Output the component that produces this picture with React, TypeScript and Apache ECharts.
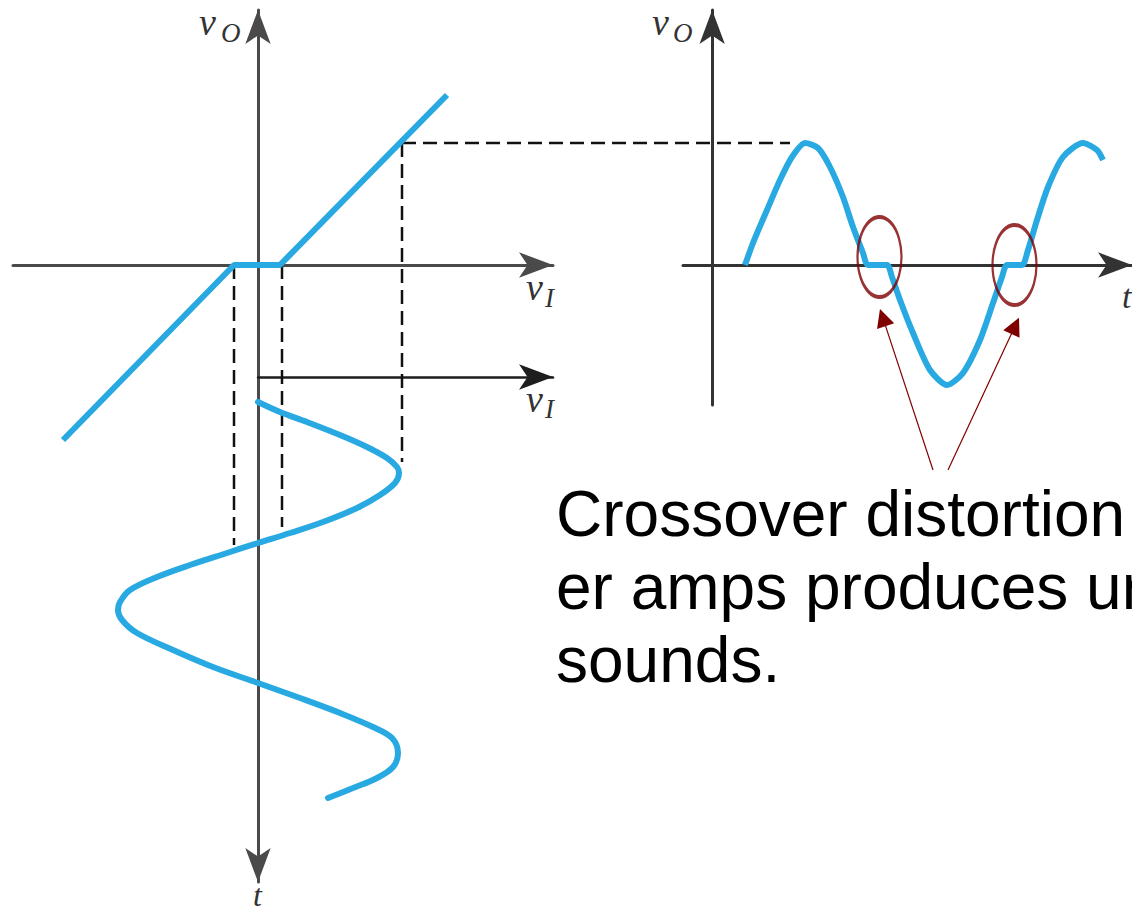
import React, { useEffect, useRef } from "react";
import * as echarts from "echarts";

// Transfer characteristic of a class-B stage (v_I -> v_O) with dead zone
const TRANSFER_VI = [-19.5, -2.4, 2.2, 18.9];
const TRANSFER_VO = [-17.5, 0, 0, 17.0];

// Input sine, time running downward (v_I, t)
const INPUT_VI = [0.0, 2.2, 4.9, 8.2, 10.9, 12.9, 13.9, 14.1, 13.7, 12.2, 9.9, 6.5, 3.2, 0.0, -3.1, -6.8, -10.1, -12.8, -13.8, -14.0, -13.6, -12.1, -8.5, -4.5, 0.0, 4.2, 8.2, 11.5, 13.4, 14.0, 13.5, 11.9, 9.5, 7.0];
const INPUT_T = [2.5, 3.5, 4.5, 5.8, 7.0, 8.1, 9.0, 9.6, 10.6, 11.8, 13.1, 14.5, 15.6, 16.6, 17.6, 18.8, 20.0, 21.3, 22.5, 23.3, 24.3, 25.6, 27.3, 29.0, 30.6, 32.1, 33.6, 35.0, 36.1, 37.6, 39.0, 40.1, 41.1, 42.1];

// Output with crossover distortion (t, v_O)
const OUTPUT_T = [3.2, 4.0, 5.4, 6.7, 7.9, 9.2, 10.5, 11.7, 13.0, 14.0, 15.0, 15.5, 17.4, 17.9, 18.7, 20.0, 21.7, 23.4, 25.0, 26.7, 28.0, 28.9, 29.4, 30.9, 31.5, 32.4, 33.5, 35.0, 37.0, 38.4, 39.0];
const OUTPUT_VO = [0.0, 2.2, 5.5, 8.5, 10.8, 12.2, 11.7, 9.8, 6.8, 3.8, 1.2, 0.0, 0.0, -1.2, -3.5, -6.8, -10.5, -12.0, -10.8, -7.5, -3.8, -1.2, 0.0, 0.0, 1.5, 4.5, 7.8, 10.8, 12.2, 11.5, 10.5];

// Dashed projection lines (transfer plane)
const PROJECTION_VI = [-2.4, 2.4, 14.4];
const PROJECTION_TOP_VO = [0, 0, 12.2];
const PROJECTION_BOTTOM_VO = [-28.0, -26.2, -19.7];
const PEAK_LINE_VI = [14.4, 53.2];
const PEAK_LINE_VO = [12.2, 12.2];

// Crossover regions marked on the output (t, v_O)
const CROSSOVER_T = [16.65, 30.15];
const CROSSOVER_VO = [0.8, 0.0];

// Annotation arrows from the caption to the crossover regions
const ARROW_FROM_T = [22.0, 23.5];
const ARROW_FROM_VO = [-20.5, -20.5];
const ARROW_TO_T = [16.98, 30.22];
const ARROW_TO_VO = [-5.26, -6.08];

const CAPTION_LINES = ["Crossover distortion", "er amps produces un", "sounds."];

const BLUE = "#29a9e1";
const DARK_RED = "#800000";

const zip = (a: number[], b: number[]) => a.map((v, i) => [v, b[i]]);

const hiddenBits = {
  axisTick: { show: false },
  axisLabel: { show: false },
  splitLine: { show: false },
};

const arrowLine = (color: string, width: number, symbol: string[]) => ({
  show: true,
  onZero: true,
  symbol,
  symbolSize: [19, 34],
  symbolOffset: [0, 0],
  lineStyle: { color, width },
});

export default function App() {
  const ref = useRef<HTMLDivElement>(null);

  useEffect(() => {
    if (!ref.current) return;
    const chart = echarts.init(ref.current, undefined, { renderer: "svg" });

    const dashStyle = { color: "#111", width: 2.5, type: [14, 7] };

    const projectionSeries = PROJECTION_VI.map((vi, i) => ({
      type: "line",
      xAxisIndex: 0,
      yAxisIndex: 0,
      data: [
        [vi, PROJECTION_TOP_VO[i]],
        [vi, PROJECTION_BOTTOM_VO[i]],
      ],
      showSymbol: false,
      symbol: "none",
      silent: true,
      z: 2,
      lineStyle: dashStyle,
    }));

    const labelStyle = (size: number) => ({
      fontFamily: "Liberation Serif",
      fontStyle: "italic",
      fontSize: size,
      fill: "#333",
      verticalAlign: "middle",
      align: "left",
    });

    const full = { left: 0, top: 0, width: 1132, height: 912 };

    const option: any = {
      animation: false,
      backgroundColor: "#ffffff",
      grid: [
        { ...full }, // 0: transfer plane (v_I, v_O)
        { ...full }, // 1: input time plane (v_I, t)
        { ...full }, // 2: output plane (t, v_O)
        { left: 13, top: 10, width: 540, height: 872 }, // 3: transfer axes
        { left: 258, top: 377, width: 295, height: 100 }, // 4: input v_I axis
        { left: 683, top: 10, width: 462, height: 395 }, // 5: output axes
      ],
      xAxis: [
        { gridIndex: 0, type: "value", min: -25.8, max: 87.4, show: false },
        { gridIndex: 1, type: "value", min: -25.8, max: 87.4, show: false },
        { gridIndex: 2, type: "value", min: -71.3, max: 41.9, show: false },
        {
          gridIndex: 3,
          type: "value",
          min: -24.5,
          max: 29.5,
          axisLine: arrowLine("#4a4a4a", 3, ["none", "arrow"]),
          ...hiddenBits,
        },
        {
          gridIndex: 4,
          type: "value",
          min: 0,
          max: 29.5,
          position: "top",
          axisLine: { ...arrowLine("#1e1e1e", 2.5, ["none", "arrow"]), onZero: false },
          ...hiddenBits,
        },
        {
          gridIndex: 5,
          type: "value",
          min: -3.0,
          max: 43.2,
          axisLine: arrowLine("#333", 3, ["none", "arrow"]),
          ...hiddenBits,
        },
      ],
      yAxis: [
        { gridIndex: 0, type: "value", min: -64.7, max: 26.5, show: false },
        { gridIndex: 1, type: "value", inverse: true, min: -37.7, max: 53.5, show: false },
        { gridIndex: 2, type: "value", min: -64.7, max: 26.5, show: false },
        {
          gridIndex: 3,
          type: "value",
          min: -61.7,
          max: 25.5,
          axisLine: arrowLine("#4a4a4a", 3, ["arrow", "arrow"]),
          ...hiddenBits,
        },
        { gridIndex: 4, type: "value", min: 0, max: 1, show: false },
        {
          gridIndex: 5,
          type: "value",
          min: -14.0,
          max: 25.5,
          axisLine: arrowLine("#333", 3, ["none", "arrow"]),
          ...hiddenBits,
        },
      ],
      series: [
        ...projectionSeries,
        {
          type: "line",
          xAxisIndex: 0,
          yAxisIndex: 0,
          data: zip(PEAK_LINE_VI, PEAK_LINE_VO),
          showSymbol: false,
          symbol: "none",
          silent: true,
          z: 2,
          lineStyle: dashStyle,
        },
        {
          type: "line",
          xAxisIndex: 0,
          yAxisIndex: 0,
          data: zip(TRANSFER_VI, TRANSFER_VO),
          showSymbol: false,
          symbol: "none",
          silent: true,
          z: 4,
          lineStyle: { color: BLUE, width: 6 },
        },
        {
          type: "line",
          xAxisIndex: 1,
          yAxisIndex: 1,
          data: zip(INPUT_VI, INPUT_T),
          showSymbol: false,
          symbol: "none",
          smooth: 0.35,
          silent: true,
          z: 4,
          lineStyle: { color: BLUE, width: 6, cap: "round" },
        },
        {
          type: "line",
          xAxisIndex: 2,
          yAxisIndex: 2,
          data: zip(OUTPUT_T, OUTPUT_VO),
          showSymbol: false,
          symbol: "none",
          smooth: 0.25,
          silent: true,
          z: 4,
          lineStyle: { color: BLUE, width: 6 },
        },
        {
          type: "scatter",
          xAxisIndex: 2,
          yAxisIndex: 2,
          data: zip(CROSSOVER_T, CROSSOVER_VO),
          symbol: "circle",
          symbolSize: [44, 80],
          silent: true,
          z: 6,
          itemStyle: { color: "rgba(0,0,0,0)", borderColor: DARK_RED, borderWidth: 3 },
          markLine: {
            silent: true,
            symbol: ["none", "triangle"],
            symbolSize: [18, 18],
            label: { show: false },
            lineStyle: { color: DARK_RED, width: 1.2, type: "solid" },
            emphasis: { disabled: true },
            data: ARROW_FROM_T.map((t, i) => [
              { coord: [t, ARROW_FROM_VO[i]] },
              { coord: [ARROW_TO_T[i], ARROW_TO_VO[i]] },
            ]),
          },
        },
      ],
      graphic: [
        { type: "text", x: 199, y: 22, style: { ...labelStyle(38), text: "v" } },
        { type: "text", x: 221, y: 33, style: { ...labelStyle(27), text: "O" } },
        { type: "text", x: 652, y: 22, style: { ...labelStyle(38), text: "v" } },
        { type: "text", x: 673, y: 33, style: { ...labelStyle(27), text: "O" } },
        { type: "text", x: 526, y: 287, style: { ...labelStyle(38), text: "v" } },
        { type: "text", x: 545, y: 298, style: { ...labelStyle(27), text: "I" } },
        { type: "text", x: 526, y: 399, style: { ...labelStyle(38), text: "v" } },
        { type: "text", x: 545, y: 409, style: { ...labelStyle(27), text: "I" } },
        { type: "text", x: 253, y: 895, style: { ...labelStyle(32), text: "t" } },
        { type: "text", x: 1122, y: 296, style: { ...labelStyle(34), text: "t" } },
        ...CAPTION_LINES.map((line, i) => ({
          type: "text",
          x: 556,
          y: 514 + i * 73,
          style: {
            text: line,
            fontFamily: "Liberation Sans",
            fontSize: 64,
            fill: "#000",
            verticalAlign: "middle",
            align: "left",
          },
        })),
      ],
    };

    chart.setOption(option);
    return () => chart.dispose();
  }, []);

  return (
    <div
      ref={ref}
      style={{ position: "fixed", left: 0, top: 0, width: 1132, height: 912, background: "#fff" }}
    />
  );
}
